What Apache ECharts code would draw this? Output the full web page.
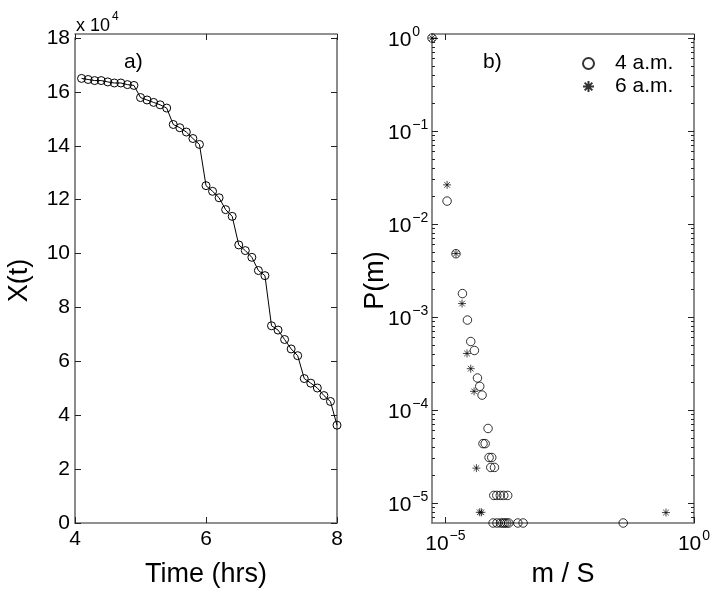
<!DOCTYPE html>
<html>
<head>
<meta charset="utf-8">
<script src="https://cdn.jsdelivr.net/npm/echarts@6/dist/echarts.min.js"></script>
<style>
  html, body { margin: 0; padding: 0; background: #fff; }
  #chart { width: 716px; height: 593px; }
</style>
</head>
<body>
<div id="chart"></div>
<script>
// panel a) : X(t) against time
var timeHrs = [4.1, 4.2, 4.3, 4.4, 4.5, 4.6, 4.7, 4.8, 4.9,
  5.0, 5.1, 5.2, 5.3, 5.4, 5.5, 5.6, 5.7, 5.8, 5.9,
  6.0, 6.1, 6.2, 6.3, 6.4, 6.5, 6.6, 6.7, 6.8, 6.9,
  7.0, 7.1, 7.2, 7.3, 7.4, 7.5, 7.6, 7.7, 7.8, 7.9, 8.0];
var xOfT = [165000, 164600, 164200, 164200, 163700, 163300, 163300, 162700, 162400,
  157900, 157000, 156100, 155200, 154000, 147900, 146700, 145100, 142700, 140500,
  125200, 123100, 120700, 116300, 113800, 103200, 101100, 98600, 93700, 91800,
  73200, 71600, 68100, 64600, 62100, 53600, 51900, 50100, 47300, 45100, 36300];

// panel b) : P(m) against m / S, log-log
var m4am = [5.37e-6, 1.08e-5, 1.63e-5, 2.2e-5, 2.77e-5, 3.23e-5, 3.83e-5, 4.41e-5, 4.9e-5, 5.46e-5,
  7.2e-5, 5.7e-5, 6.3e-5, 7.55e-5, 8.55e-5, 8.17e-5, 9.7e-5,
  9.4e-5, 1.08e-4, 1.27e-4, 1.49e-4, 1.79e-4,
  9.1e-5, 1.09e-4, 1.28e-4, 1.43e-4, 1.56e-4, 1.71e-4, 1.88e-4, 2.86e-4, 3.65e-4, 0.0377];
var p4am = [1, 0.0176, 0.00478, 0.00178, 9.24e-4, 5.43e-4, 4.35e-4, 2.2e-4, 1.79e-4, 1.44e-4,
  6.3e-5, 4.33e-5, 4.33e-5, 3.07e-5, 3.07e-5, 2.4e-5, 2.4e-5,
  1.2e-5, 1.2e-5, 1.2e-5, 1.2e-5, 1.2e-5,
  6.06e-6, 6.06e-6, 6.06e-6, 6.06e-6, 6.06e-6, 6.06e-6, 6.06e-6, 6.06e-6, 6.06e-6, 6.06e-6];
var m6am = [5.37e-6, 1.08e-5, 1.63e-5, 2.16e-5, 2.72e-5, 3.23e-5, 3.77e-5, 4.2e-5, 4.9e-5, 5.3e-5, 0.273];
var p6am = [1, 0.0263, 0.0048, 0.00139, 4.04e-4, 2.77e-4, 1.58e-4, 2.36e-5, 7.9e-6, 7.9e-6, 7.85e-6];

var xTickLabels = ['0', '2', '4', '6', '8', '10', '12', '14', '16', '18'];
var decadesY = [1, 0.1, 0.01, 0.001, 1e-4, 1e-5];
var decadesX = [1e-5, 1];

var FONT = 'Liberation Sans, Arial, Helvetica, sans-serif';
var AXIS_GRAY = '#6e6e6e';
var GRID_W = 262, GRID_H = 489;

function pairs(a, b) {
  var out = [];
  for (var i = 0; i < a.length; i++) out.push([a[i], b[i]]);
  return out;
}
function tick(len, inside, custom) {
  var t = { show: true, inside: inside, length: len, lineStyle: { color: '#222', width: 1 } };
  if (custom) t.customValues = custom;
  return t;
}
function boxLine(show) {
  return { show: show, onZero: false, lineStyle: { color: AXIS_GRAY, width: 1.6 } };
}

// minor ticks 2..9 for every decade inside the P(m) range
var minorY = [];
for (var e = -6; e < 0; e++) {
  for (var k = 2; k <= 9; k++) {
    var v = k * Math.pow(10, e);
    if (v > 6.06e-6 && v < 1) minorY.push(v);
  }
}

function powLabel(v) {
  var ex = Math.round(Math.log10(v));
  return '{b|10}{s|' + String(ex).replace('-', '\u2212') + '}';
}
var powRich = {
  b: { fontSize: 21, fontFamily: FONT, color: '#000', verticalAlign: 'bottom', lineHeight: 26 },
  s: { fontSize: 14, fontFamily: FONT, color: '#000', verticalAlign: 'top', lineHeight: 26, padding: [0, 0, 12, 1] }
};

var starPath = 'path://M5,0L5,10M0,5L10,5M1.5,1.5L8.5,8.5M1.5,8.5L8.5,1.5';

var hidden = { show: false };
var chart = echarts.init(document.getElementById('chart'));

var option = {
  backgroundColor: '#fff',
  animation: false,
  grid: [
    { left: 75, top: 38, width: GRID_W, height: GRID_H },
    { left: 432, top: 38, width: GRID_W, height: GRID_H }
  ],
  xAxis: [
    {
      gridIndex: 0, type: 'value', min: 4, max: 8, interval: 2,
      name: 'Time (hrs)', nameLocation: 'middle', nameGap: 38, nameMoveOverlap: false,
      nameTextStyle: { fontSize: 27, fontFamily: FONT, color: '#000' },
      axisLine: boxLine(true), axisTick: tick(6, true),
      axisLabel: { fontSize: 21, fontFamily: FONT, color: '#000', margin: 6 },
      splitLine: hidden
    },
    // top edge of panel a): bottom axis shifted up, ticks pointing down into the box
    {
      gridIndex: 0, type: 'value', min: 4, max: 8, interval: 2, position: 'bottom', offset: -GRID_H,
      axisLine: boxLine(true), axisTick: tick(6, false),
      axisLabel: hidden, splitLine: hidden
    },
    {
      gridIndex: 1, type: 'log', logBase: 10, min: 5.37e-6, max: 1,
      name: 'm / S', nameLocation: 'middle', nameGap: 38, nameMoveOverlap: false,
      nameTextStyle: { fontSize: 27, fontFamily: FONT, color: '#000' },
      axisLine: boxLine(true), axisTick: tick(6, true, decadesX),
      axisLabel: { customValues: decadesX, formatter: powLabel, rich: powRich, margin: 6 },
      splitLine: hidden
    },
    {
      gridIndex: 1, type: 'log', logBase: 10, min: 5.37e-6, max: 1, position: 'bottom', offset: -GRID_H,
      axisLine: boxLine(true), axisTick: tick(6, false, decadesX),
      axisLabel: hidden, splitLine: hidden
    }
  ],
  yAxis: [
    {
      gridIndex: 0, type: 'value', min: 0, max: 180000, interval: 20000,
      name: 'X(t)', nameLocation: 'middle', nameGap: 42, nameRotate: 90, nameMoveOverlap: false,
      nameTextStyle: { fontSize: 27, fontFamily: FONT, color: '#000' },
      axisLine: boxLine(true), axisTick: tick(6, true),
      axisLabel: {
        fontSize: 21, fontFamily: FONT, color: '#000', margin: 5,
        formatter: function (v) { return xTickLabels[Math.round(v / 20000)]; }
      },
      splitLine: hidden
    },
    {
      gridIndex: 0, type: 'value', min: 0, max: 180000, interval: 20000, position: 'right',
      axisLine: boxLine(true), axisTick: tick(6, true),
      axisLabel: hidden, splitLine: hidden
    },
    // left edge ticks of panel a): right axis shifted left, ticks pointing into the box
    {
      gridIndex: 0, type: 'value', min: 0, max: 180000, interval: 20000, position: 'right', offset: -GRID_W,
      axisLine: boxLine(false), axisTick: tick(6, false),
      axisLabel: hidden, splitLine: hidden
    },
    {
      gridIndex: 1, type: 'log', logBase: 10, min: 6.06e-6, max: 1,
      name: 'P(m)', nameLocation: 'middle', nameGap: 43, nameRotate: 90, nameMoveOverlap: false,
      nameTextStyle: { fontSize: 27, fontFamily: FONT, color: '#000' },
      axisLine: boxLine(true), axisTick: tick(6, true, decadesY),
      axisLabel: { customValues: decadesY, formatter: powLabel, rich: powRich, margin: 44, align: 'left' },
      splitLine: hidden
    },
    {
      gridIndex: 1, type: 'log', logBase: 10, min: 6.06e-6, max: 1, position: 'right',
      axisLine: boxLine(true), axisTick: tick(6, true, decadesY),
      axisLabel: hidden, splitLine: hidden
    },
    {
      gridIndex: 1, type: 'log', logBase: 10, min: 6.06e-6, max: 1, position: 'right',
      axisLine: boxLine(false), axisTick: tick(3, true, minorY),
      axisLabel: hidden, splitLine: hidden
    },
    {
      gridIndex: 1, type: 'log', logBase: 10, min: 6.06e-6, max: 1, position: 'right', offset: -GRID_W,
      axisLine: boxLine(false), axisTick: tick(6, false, decadesY),
      axisLabel: hidden, splitLine: hidden
    },
    {
      gridIndex: 1, type: 'log', logBase: 10, min: 6.06e-6, max: 1, position: 'right', offset: -GRID_W,
      axisLine: boxLine(false), axisTick: tick(3, false, minorY),
      axisLabel: hidden, splitLine: hidden
    }
  ],
  legend: {
    orient: 'vertical', left: 577, top: 48, itemGap: 2,
    itemWidth: 11, itemHeight: 11,
    textStyle: { fontSize: 21, fontFamily: FONT, color: '#000', padding: [0, 0, 0, 16] },
    data: ['4 a.m.', '6 a.m.']
  },
  graphic: [
    { type: 'text', left: 76, top: 11,
      style: { text: '{b|x 10}{s|4}', rich: {
        b: { fontSize: 18, fontFamily: FONT, fill: '#000', verticalAlign: 'bottom', lineHeight: 24 },
        s: { fontSize: 12, fontFamily: FONT, fill: '#000', verticalAlign: 'top', lineHeight: 24, padding: [0, 0, 10, 2] }
      } } },
    { type: 'text', left: 124, top: 52, style: { text: 'a)', fontSize: 21, fontFamily: FONT, fill: '#000' } },
    { type: 'text', left: 483, top: 52, style: { text: 'b)', fontSize: 21, fontFamily: FONT, fill: '#000' } }
  ],
  series: [
    {
      type: 'line', xAxisIndex: 0, yAxisIndex: 0,
      data: pairs(timeHrs, xOfT),
      symbol: 'circle', symbolSize: 8, showAllSymbol: true, clip: false,
      lineStyle: { color: '#000', width: 1 },
      itemStyle: { color: 'rgba(0,0,0,0)', borderColor: '#000', borderWidth: 1 }
    },
    {
      name: '4 a.m.', type: 'scatter', xAxisIndex: 2, yAxisIndex: 3,
      data: pairs(m4am, p4am), clip: false,
      symbol: 'circle', symbolSize: 8.5,
      itemStyle: { color: 'rgba(0,0,0,0)', borderColor: '#000', borderWidth: 1 }
    },
    {
      name: '6 a.m.', type: 'scatter', xAxisIndex: 2, yAxisIndex: 3,
      data: pairs(m6am, p6am), clip: false,
      symbol: starPath, symbolSize: 8,
      itemStyle: { color: 'rgba(0,0,0,0)', borderColor: '#000', borderWidth: 0.9 }
    }
  ]
};

chart.setOption(option);
</script>
</body>
</html>
